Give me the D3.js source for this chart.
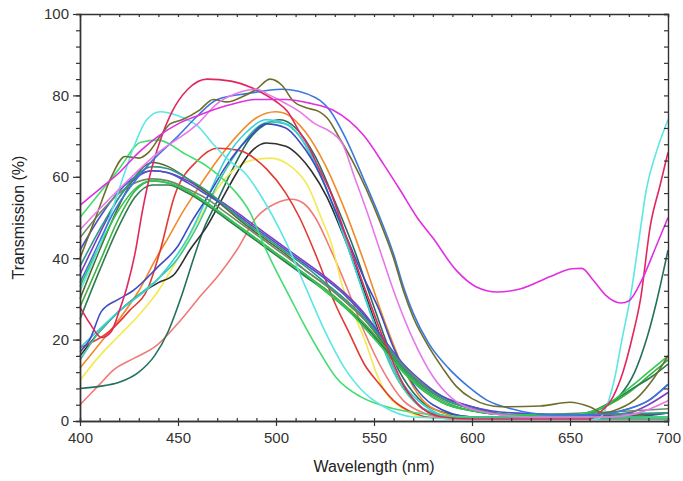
<!DOCTYPE html>
<html>
<head>
<meta charset="utf-8">
<script src="https://cdn.jsdelivr.net/npm/d3@7"></script>
<style>
  body { margin: 0; background: #fff; }
  svg { display: block; font-family: "Liberation Sans", Arial, sans-serif; }
</style>
</head>
<body>
<div id="chart"></div>
<script>
// spectra, [wavelength nm, transmission %]
const magenta = [[400,53],[410,57],[420,61],[430,66],[440,70],[450,73],[460,75],[475,77.5],[490,79],[505,79],[518,78],[529,76.4],[545,70],[555,63],[563,57],[572,50],[580,45],[592,37],[602,33],[613,31.7],[625,32.5],[640,35.5],[651,37.4],[656,37.5],[662,34.5],[668,31],[676,29],[680,29.5],[687,35],[694,43],[700,50]]
const orchid = [[400,47],[420,57],[440,66],[460,73],[470,78],[480,80.5],[490,81.5],[497,80],[505,78],[512,76],[520,73],[528,71],[534,68],[540,60],[546,52],[553,42],[560,32],[570,20],[580,11],[590,5.5],[603,2.5],[630,1],[670,1],[685,2],[700,5]]
const crimson = [[400,28],[405,24],[411,20.5],[416,22],[420,27],[424,33],[428,41],[432,52],[436,61],[441,69],[447,76],[455,81.5],[465,84],[477,83.5],[487,82],[493,80.6],[500,78.5],[506,76],[512,71],[516,68],[522,62],[528,56],[536,45],[545,33],[555,20],[565,9],[575,3],[585,1],[600,0.5],[660,0.5],[665,2],[672,6],[677,12],[682,21],[686,30],[691,48],[696,58],[700,66]]
const cyan = [[400,32],[410,43],[420,57],[428,68],[434,74],[441,76],[450,75],[460,72.5],[468,68],[476,64],[484,61],[494,54],[505,44],[515,33],[525,22],[535,13],[545,7],[555,3.5],[570,1],[600,0.5],[664,0.5],[669,4],[673,11],[676.5,20],[681,31],[685,44],[689,57],[694,66],[700,74]]
const olive = [[400,40],[408,50],[416,60],[423,65],[430,64.6],[435,66],[441,70],[446,73],[452,74],[461,76.4],[468,79],[475,78.4],[482,79.5],[490,81.5],[497,84],[503,82.5],[509,78.5],[515,77],[522,76],[526,74.5],[533,69],[540,63],[546,57],[553,49],[560,40],[565,32],[570,25.5],[577,19],[585,13],[592,8.5],[600,5.5],[615,3.5],[635,3.7],[650,4.6],[660,3.5],[667,2],[675,3],[685,6],[692,10],[700,16]]
const blue = [[400,34],[405,39],[418,52],[435,63],[450,70],[460,75],[470,79],[486,80.5],[503,81.5],[520,79.5],[528,76],[535,70],[546,58],[553,50],[560,41],[565,33],[570,26.5],[578,19],[588,13],[598,8.5],[608,5],[620,3],[640,1.5],[660,1.5],[680,3],[690,5],[700,9]]
const orange = [[400,13],[410,19],[420,25],[430,32],[440,41],[445,45],[452,51],[460,57],[470,64],[480,70],[490,74.5],[500,76],[505,75.5],[515,71],[525,63],[535,52],[545,39],[555,25],[565,13],[575,5],[585,2],[600,0.5],[700,1]]
const darkTeal = [[400,8],[410,8.5],[420,9.5],[430,12],[438,16],[445,22],[452,31],[458,40],[463,47],[470,54],[478,62],[486,69],[495,73],[502,74],[510,72],[520,65],[530,54],[540,42],[550,28],[560,15],[570,7],[580,3],[600,1],[640,0.5],[660,1.5],[665,3],[675,6],[683,12],[689,20],[694,29],[700,42]]
const black = [[400,16],[410,22],[420,27],[430,31],[440,34],[448,36],[456,42],[465,48],[473,55],[480,61],[487,66],[495,68.3],[505,67.5],[512,65],[518,61.5],[526,55],[534,46],[542,36],[550,25],[558,15],[566,8],[575,3],[590,1],[620,0.5],[700,1]]
const yellow = [[400,10],[410,16],[420,21],[430,26],[440,32],[450,40],[460,49],[470,57],[478,61.5],[487,64],[497,64.6],[508,62.4],[516,58],[523,50],[528,44],[534,33],[540,26],[546,19],[551,12],[556,7],[565,3],[575,1],[600,0.5],[700,0.5]]
const red = [[400,18],[415,22],[425,27],[435,33],[441,42],[448,55],[460,64],[470,67],[481,66.5],[495,62],[505,56],[512,50],[521,40],[530,29],[538,21],[545,14],[552,9.5],[560,5],[570,2],[580,0.8],[600,0.5],[700,0.5]]
const salmon = [[400,4],[410,9],[417,12.5],[428,15.5],[439,18.5],[450,24],[462,31],[471,36],[480,42],[490,50],[500,53.5],[508,54.5],[514,53.5],[520,50],[528,42],[536,33],[545,22],[555,12],[565,5],[575,2],[590,0.5],[700,0.5]]
const green = [[400,50],[410,56],[420,62],[431,68.5],[440,69],[454,65.5],[465,62.5],[476,58],[487,51],[494,43],[500,37],[507,30.5],[514,24],[521,18],[531,10.5],[543,6],[553,4],[563,2.7],[580,1.5],[600,1],[700,1]]
const tealGreen = [[400,15],[410,22],[420,27],[430,31],[440,35],[450,40],[460,48],[470,58],[480,66],[490,72],[497,73.5],[505,73],[512,70],[520,63],[530,52],[540,38],[550,24],[560,12],[570,5],[580,2],[600,0.5],[700,0.5]]
const navy = [[400,17],[405,20],[411,27],[420,30],[427,32],[440,38],[450,43],[457,49],[465,55],[475,63],[485,69],[495,73],[505,72],[513,68],[522,61],[530,52],[537,44],[545,35],[552,28],[560,18],[570,9],[580,4],[600,1],[680,1],[700,2]]
const turquoise = [[400,18],[420,27],[440,35],[455,45],[465,55],[475,65],[485,71],[495,74],[505,73],[515,68],[525,58],[535,45],[545,31],[555,18],[565,9],[575,4],[590,1],[700,1]]
// bundle of curves peaking near 437 nm
const purple = [[400,36],[410,46],[420,55],[428,59.5],[437,61.5],[445,61],[455,59],[465,56],[475,53],[485,49.5],[495,46],[505,42.5],[515,39],[525,35.5],[535,31.5],[545,26.5],[555,20],[565,13.5],[575,9],[585,6],[600,3.5],[620,1.5],[660,1.2],[680,2],[690,4],[700,7]]
const darkOlive = [[400,30],[410,42],[420,53],[428,60],[437,63.5],[445,62.5],[455,59.5],[465,56],[475,52],[485,48],[495,44.5],[505,41],[515,37],[525,33.5],[535,29.5],[545,25],[555,19],[565,13],[575,8.5],[585,5.5],[600,3],[620,1.5],[660,1],[700,2]]
const midGreen = [[400,28],[410,39],[420,50],[428,56.5],[437,59],[445,58.5],[455,56.5],[465,53.5],[475,50],[485,46.5],[495,43],[505,39.5],[515,36],[525,32.5],[535,28.5],[545,24],[555,18.5],[565,12.5],[575,8],[585,5],[600,2.5],[620,1.5],[650,1.5],[660,2],[670,4],[680,7],[690,11],[700,15]]
const forest = [[400,25],[410,37],[420,48],[428,55],[437,58],[445,58],[455,56],[465,53],[475,49.5],[485,46],[495,42.5],[505,39],[515,35.5],[525,32],[535,28],[545,23.5],[555,18],[565,12],[575,7.5],[585,4.5],[600,2.5],[620,1.5],[650,1.5],[662,2.5],[672,5],[682,8],[692,11],[700,14]]
const violet = [[400,42],[410,50],[420,56.5],[428,60],[437,61.5],[445,61],[455,58.5],[465,55.5],[475,52.5],[485,49],[495,45.5],[505,42],[515,38.5],[525,35],[535,31],[545,26],[555,20],[565,14],[575,9.5],[585,6],[600,3.5],[620,2],[660,1.5],[680,3],[690,5],[700,9]]
const sage = [[400,45],[410,51],[420,56],[428,58.5],[437,59.5],[445,59],[455,57],[465,54.5],[475,51],[485,47.5],[495,44],[505,40.5],[515,37],[525,33.5],[535,29.5],[545,25],[555,19.5],[565,13.5],[575,9],[585,5.5],[600,3],[620,1.5],[700,3]]
const teal = [[400,38],[410,47],[420,55],[428,60],[437,62.5],[445,62],[455,59.5],[465,56.5],[475,52.5],[485,48.5],[495,45],[505,41.5],[515,38],[525,34],[535,30],[545,25.5],[555,19.5],[565,13],[575,8.5],[585,5.5],[600,3],[620,1.5],[700,2]]
const lime = [[400,33],[410,43],[420,52],[428,57],[437,59],[445,58.5],[455,56.5],[465,53.5],[475,50],[485,46.5],[495,43],[505,39.5],[515,36],[525,32],[535,28],[545,23],[555,17.5],[565,12],[575,7.5],[585,4.5],[600,2.5],[620,1.5],[650,1.5],[665,3],[680,8],[690,12],[700,16]]

const seriesData = [salmon,darkTeal,yellow,orange,black,red,tealGreen,turquoise,navy,purple,darkOlive,midGreen,forest,violet,sage,teal,lime,green,cyan,crimson,blue,olive,orchid,magenta]
const seriesColors = ["#f07a78","#24705e","#f2ea50","#f08a2c","#2f2f2f","#e23a32","#3cc8a0","#38d0d8","#3c4cc4","#7b3fbf","#55692e","#3cb043","#2e7d4f","#5050c8","#6e8a6a","#2a9a8a","#30c850","#44dc70","#5ee6e6","#e0285c","#3a78e0","#6e6e2c","#e878e8","#e030e0"]

const xTicks = [400,450,500,550,600,650,700]
const yTicks = [0,20,40,60,80,100]

const width = 683
const height = 481
const margin = { top: 14, right: 15, bottom: 60, left: 80 }

const svg = d3.select("#chart").append("svg").attr("width", width).attr("height", height)

const x = d3.scaleLinear().domain([400, 700]).range([margin.left, width - margin.right])
const y = d3.scaleLinear().domain([0, 100]).range([height - margin.bottom, margin.top])

const axisColor = "#333"

// curves
const line = d3.line()
               .x(d => x(d[0]))
               .y(d => y(d[1]))
               .curve(d3.curveMonotoneX)

const plot = svg.append("g")

seriesData.forEach((s, i) => {
    plot.append("path")
        .attr("d", line(s))
        .attr("fill", "none")
        .attr("stroke", seriesColors[i])
        .attr("stroke-width", 1.6)
        .attr("stroke-linejoin", "round")
})

// minor ticks
const xMinor = d3.range(400, 701, 10)
const yMinor = d3.range(0, 101, 4)

const gxMinor = svg.append("g").attr("transform", `translate(0, ${y(0)})`)
                   .call(d3.axisBottom(x).tickValues(xMinor).tickSize(-3).tickFormat(""))
const gxTopMinor = svg.append("g").attr("transform", `translate(0, ${y(100)})`)
                   .call(d3.axisTop(x).tickValues(xMinor).tickSize(-3).tickFormat(""))
const gyMinor = svg.append("g").attr("transform", `translate(${x(400)}, 0)`)
                   .call(d3.axisLeft(y).tickValues(yMinor).tickSize(4).tickFormat(""))
const gyRightMinor = svg.append("g").attr("transform", `translate(${x(700)}, 0)`)
                   .call(d3.axisRight(y).tickValues(yMinor).tickSize(-4).tickFormat(""))

// major ticks + labels
const gx = svg.append("g").attr("transform", `translate(0, ${y(0)})`)
              .call(d3.axisBottom(x).tickValues(xTicks).tickSize(5).tickPadding(6).tickSizeOuter(0))
const gy = svg.append("g").attr("transform", `translate(${x(400)}, 0)`)
              .call(d3.axisLeft(y).tickValues(yTicks).tickSize(7).tickPadding(4).tickSizeOuter(0))

;[gxMinor, gxTopMinor, gyMinor, gyRightMinor, gx, gy].forEach(g => {
    g.selectAll("path").attr("stroke", axisColor).attr("stroke-width", 1.4)
    g.selectAll("line").attr("stroke", axisColor).attr("stroke-width", 1.2)
})

gx.selectAll("text").style("font-size", "15px").attr("fill", axisColor)
gy.selectAll("text").style("font-size", "15px").attr("fill", axisColor)

svg.append("text")
   .attr("x", (x(400) + x(700)) / 2)
   .attr("y", 472)
   .attr("text-anchor", "middle")
   .style("font-size", "16px")
   .attr("fill", "#222")
   .text("Wavelength (nm)")

svg.append("text")
   .attr("transform", `translate(24, ${(y(0) + y(100)) / 2}) rotate(-90)`)
   .attr("text-anchor", "middle")
   .style("font-size", "16px")
   .attr("fill", "#222")
   .text("Transmission (%)")
</script>
</body>
</html>
